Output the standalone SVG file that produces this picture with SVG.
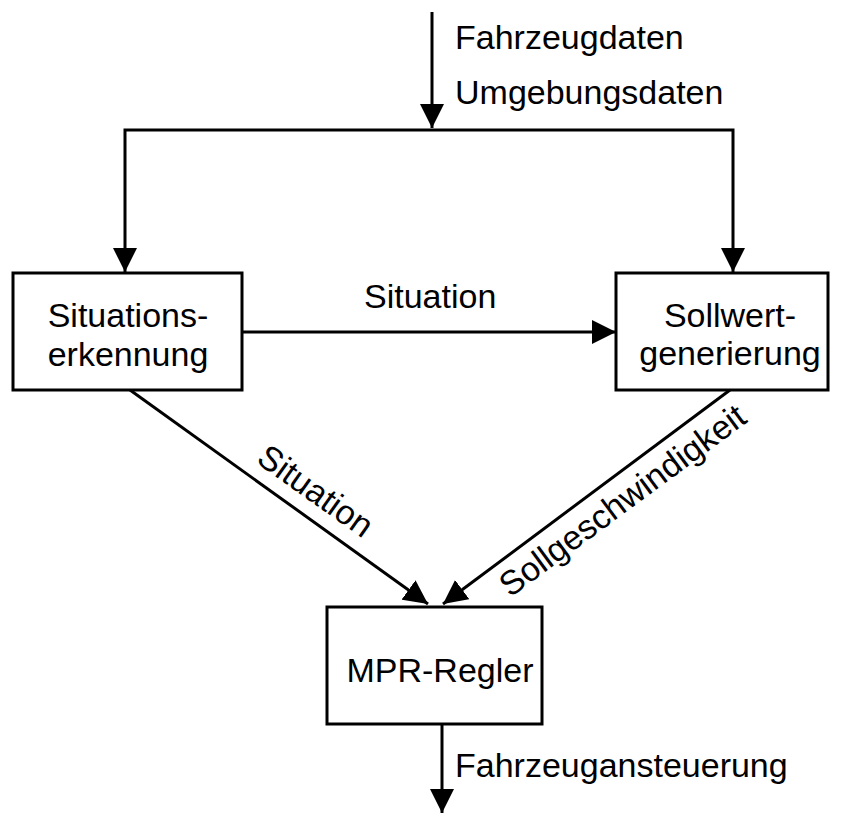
<svg xmlns="http://www.w3.org/2000/svg" width="841" height="815" viewBox="0 0 841 815">
<style>
.box{fill:#fff;stroke:#000;stroke-width:3}
.ln{fill:none;stroke:#000;stroke-width:3;marker-end:url(#ah)}
text{font-family:"Liberation Sans",Arial,sans-serif;font-size:34px;fill:#000}
.c{text-anchor:middle}
</style>
<defs>
<marker id="ah" markerUnits="userSpaceOnUse" markerWidth="24" markerHeight="24" refX="24" refY="12" orient="auto">
<path d="M0,0 L24,12 L0,24 z" fill="#000"/>
</marker>
</defs>
<rect width="841" height="815" fill="#fff"/>
<g id="connectors">
<path class="ln" d="M432,12 V128"/>
<path class="ln" d="M432,130 H125 V272"/>
<path class="ln" d="M432,130 H733 V272"/>
<path class="ln" d="M242,332 H616"/>
<path class="ln" d="M130,390 L428,604"/>
<path class="ln" d="M730,390 L443,604"/>
<path class="ln" d="M442,724 V813"/>
<text x="455" y="49">Fahrzeugdaten</text>
<text x="455" y="104">Umgebungsdaten</text>
<text x="364" y="308">Situation</text>
<text transform="translate(255,462) rotate(35.4)">Situation</text>
<text transform="translate(510,598) rotate(-36.5)">Sollgeschwindigkeit</text>
<text x="455" y="777">Fahrzeugansteuerung</text>
</g>
<g id="situationserkennung">
<rect class="box" x="13" y="273" width="229" height="117"/>
<text class="c" x="128" y="327">Situations-</text>
<text class="c" x="128" y="366">erkennung</text>
</g>
<g id="sollwertgenerierung">
<rect class="box" x="616" y="273" width="212" height="117"/>
<text class="c" x="730" y="327">Sollwert-</text>
<text class="c" x="730" y="365">generierung</text>
</g>
<g id="mpr-regler">
<rect class="box" x="327" y="607" width="215" height="117"/>
<text class="c" x="440" y="682">MPR-Regler</text>
</g>
</svg>
